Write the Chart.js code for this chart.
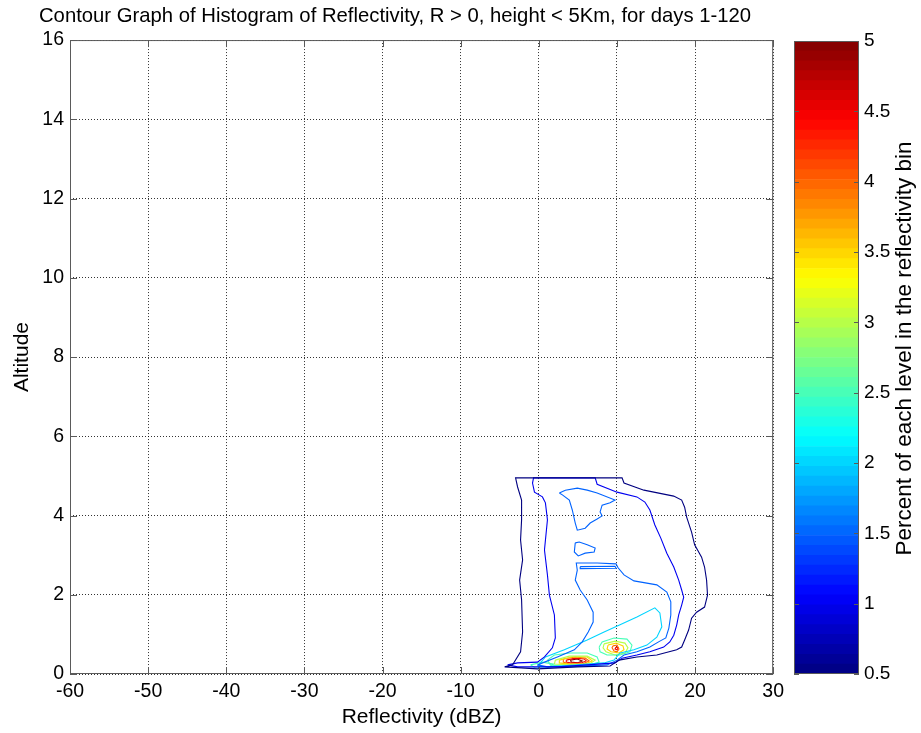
<!DOCTYPE html>
<html>
<head>
<meta charset="utf-8">
<script src="https://cdn.jsdelivr.net/npm/chart.js@4.4.0/dist/chart.umd.min.js"></script>
<style>
  html, body { margin: 0; padding: 0; background: #fff; }
  #wrap { position: relative; width: 921px; height: 733px; }
  #main { position: absolute; left: 0; top: 0; }
  #cbar { position: absolute; left: 790px; top: 0; }
</style>
</head>
<body>
<div id="wrap">
  <canvas id="main" width="790" height="733"></canvas>
  <canvas id="cbar" width="131" height="733"></canvas>
</div>
<script>
// axis ranges / ticks
const xRange = [-60, 30];
const yRange = [0, 16];
const cbarRange = [0.5, 5];
const nBands = 64;

// contour lines, [reflectivity dBZ, altitude km]
const ringA = [[-4.37,0.18],[-3.35,0.23],[-2.33,0.56],[-2.07,1.06],[-2.20,1.87],[-2.45,2.37],[-2.07,2.88],[-2.33,3.38],[-2.20,3.89],[-2.20,4.39],[-2.71,4.72],[-2.97,4.95],[2.38,4.95],[10.66,4.95],[10.91,4.82],[13.46,4.64],[17.27,4.49],[18.29,4.39],[18.67,4.21],[18.93,3.96],[19.56,3.58],[19.95,3.26],[20.84,2.95],[21.22,2.70],[21.48,2.37],[21.60,1.99],[21.22,1.69],[20.20,1.56],[19.56,1.41],[19.18,1.11],[18.67,0.86],[18.29,0.68],[17.65,0.61],[15.11,0.48],[12.56,0.43],[10.27,0.35],[9.13,0.20],[4.93,0.18],[-0.17,0.13]];
const ringB = [[-3.99,0.23],[-2.71,0.28],[-0.17,0.30],[0.73,0.43],[1.74,0.66],[2.12,0.91],[2.00,1.49],[1.36,1.99],[1.11,2.50],[0.73,3.13],[1.11,3.89],[0.85,4.32],[0.47,4.47],[-0.55,4.59],[-0.80,4.82],[-0.67,4.95],[7.22,4.95],[7.47,4.79],[10.02,4.59],[12.56,4.47],[13.58,4.34],[14.22,4.14],[14.86,3.76],[15.62,3.43],[16.39,3.05],[17.28,2.70],[17.91,2.37],[18.29,2.12],[18.55,1.94],[18.29,1.74],[17.91,1.49],[17.66,1.24],[17.28,0.98],[16.77,0.81],[15.99,0.68],[14.22,0.56],[12.56,0.48],[10.65,0.40],[9.76,0.28],[6.20,0.23],[2.38,0.18],[-2.71,0.18]];
const ringC = [[-0.17,0.23],[0.73,0.30],[2.38,0.43],[4.55,0.61],[5.56,0.81],[6.33,1.06],[6.96,1.31],[6.96,1.56],[6.20,1.87],[5.30,2.12],[4.67,2.37],[4.93,2.62],[4.80,2.80],[7.47,2.80],[9.89,2.78],[10.15,2.68],[10.91,2.50],[12.18,2.35],[15.11,2.25],[16.39,2.07],[16.90,1.82],[16.90,1.49],[16.65,1.16],[16.26,0.91],[15.50,0.83],[14.22,0.68],[12.56,0.56],[10.91,0.48],[10.02,0.35],[8.74,0.23],[4.93,0.20],[1.11,0.18]];
const bandC = [[5.30,2.71],[9.76,2.72],[9.89,2.67],[5.30,2.66]];
const blobC1 = [[2.63,4.57],[3.40,4.64],[4.93,4.69],[6.20,4.64],[7.47,4.57],[9.76,4.39],[9.13,4.32],[8.11,4.26],[7.85,4.09],[8.11,3.99],[7.47,3.91],[6.58,3.81],[5.94,3.68],[4.93,3.63],[4.67,3.81],[4.29,4.14],[3.91,4.39],[3.02,4.52]];
const blobC2 = [[4.67,3.31],[5.18,3.33],[6.20,3.26],[7.22,3.18],[7.09,3.08],[5.94,3.05],[5.05,2.98],[4.55,3.08]];
const ringD = [[-0.17,0.20],[0.86,0.43],[3.27,0.61],[6.20,0.86],[8.36,1.06],[10.40,1.24],[12.56,1.44],[14.86,1.67],[15.50,1.54],[15.75,1.19],[15.11,0.93],[13.84,0.73],[12.18,0.61],[10.40,0.53],[9.63,0.35],[8.36,0.28],[4.93,0.23],[1.11,0.18]];
const ringE1 = [[7.73,0.68],[8.11,0.81],[9.63,0.91],[11.29,0.88],[11.93,0.73],[11.67,0.56],[10.40,0.48],[8.74,0.48],[7.85,0.56]];
const ringE2 = [[1.11,0.35],[2.00,0.48],[4.04,0.53],[6.20,0.53],[7.47,0.43],[7.73,0.30],[6.20,0.20],[3.65,0.18],[1.49,0.23]];
const ringE3 = [[-1.06,0.23],[0.48,0.30],[1.87,0.25],[1.11,0.15],[-0.42,0.15]];
const ringF1 = [[8.36,0.76],[9.76,0.83],[11.03,0.78],[11.42,0.66],[11.03,0.53],[9.76,0.48],[8.61,0.56],[8.23,0.66]];
const ringF2 = [[2.12,0.35],[3.91,0.45],[6.20,0.45],[7.22,0.35],[6.45,0.25],[3.91,0.23],[2.00,0.25]];
const ringG1 = [[8.87,0.73],[9.89,0.78],[10.78,0.71],[10.91,0.61],[10.27,0.53],[9.25,0.56],[8.74,0.63]];
const ringG2 = [[2.63,0.35],[4.29,0.43],[6.20,0.43],[6.84,0.33],[5.94,0.25],[3.91,0.25],[2.63,0.28]];
const ringH1 = [[9.51,0.71],[10.02,0.73],[10.27,0.63],[10.02,0.56],[9.63,0.58],[9.38,0.66]];
const ringH2 = [[3.14,0.38],[4.67,0.43],[5.94,0.40],[6.45,0.33],[5.56,0.25],[3.91,0.25],[3.14,0.30]];
const ringI1 = [[9.89,0.68],[10.15,0.66],[10.02,0.61],[9.76,0.63]];
const ringI2 = [[3.52,0.35],[4.67,0.40],[5.81,0.38],[6.07,0.33],[5.43,0.28],[4.04,0.28],[3.52,0.30]];
const ringJ2 = [[4.04,0.35],[4.93,0.38],[5.56,0.33],[4.93,0.28],[4.17,0.30]];

const contourLevels = [0.5, 1.0, 1.5, 1.5, 1.5, 1.5, 2.0, 2.5, 2.5, 2.5, 3.0, 3.0, 3.5, 3.5, 4.0, 4.0, 4.5, 4.5, 5.0];
const contourLines  = [ringA, ringB, ringC, bandC, blobC1, blobC2, ringD, ringE1, ringE2, ringE3, ringF1, ringF2, ringG1, ringG2, ringH1, ringH2, ringI1, ringI2, ringJ2];

// stray black stroke inside the colorbar
const cbarStrokeX = [0.49, 0.75];
const cbarStrokeY = [0.5, 1.0];

function jet(f) {
  const c = v => Math.round(255 * Math.max(0, Math.min(1, v)));
  return `rgb(${c(1.5 - Math.abs(4 * f - 3))},${c(1.5 - Math.abs(4 * f - 2))},${c(1.5 - Math.abs(4 * f - 1))})`;
}
function levelColor(l) {
  return jet((l - cbarRange[0]) / (cbarRange[1] - cbarRange[0]));
}

Chart.defaults.font.family = '"Liberation Sans", Arial, Helvetica, sans-serif';
Chart.defaults.color = '#000';

const frameColor = '#5a5a5a';

// box round the plot plus inward tick marks, like matlab
const framePlugin = {
  id: 'frame',
  afterDraw(chart, args, opts) {
    const { ctx, chartArea: a, scales } = chart;
    ctx.save();
    ctx.strokeStyle = frameColor;
    ctx.lineWidth = 1;
    ctx.strokeRect(a.left + 0.5, a.top + 0.5, a.right - a.left - 1, a.bottom - a.top - 1);
    const len = opts.tickLen || 7;
    ctx.beginPath();
    if (opts.xTicks) {
      scales.x.ticks.forEach(t => {
        const px = Math.round(scales.x.getPixelForValue(t.value)) + 0.5;
        ctx.moveTo(px, a.bottom); ctx.lineTo(px, a.bottom - len);
        ctx.moveTo(px, a.top); ctx.lineTo(px, a.top + len);
      });
    }
    scales.y.ticks.forEach(t => {
      const py = Math.round(scales.y.getPixelForValue(t.value)) + 0.5;
      ctx.moveTo(a.left, py); ctx.lineTo(a.left + len, py);
      ctx.moveTo(a.right, py); ctx.lineTo(a.right - len, py);
    });
    ctx.stroke();
    if (opts.sideTitle) {
      ctx.fillStyle = '#000';
      ctx.font = opts.sideTitle.size + 'px "Liberation Sans", Arial, sans-serif';
      ctx.textAlign = 'center';
      ctx.textBaseline = 'middle';
      ctx.translate(opts.sideTitle.x, (a.top + a.bottom) / 2 + opts.sideTitle.dy);
      ctx.rotate(-Math.PI / 2);
      ctx.fillText(opts.sideTitle.text, 0, 0);
    }
    ctx.restore();
  }
};

const datasets = contourLines.map((line, i) => ({
  data: line.concat([line[0]]).map(p => ({ x: p[0], y: p[1] })),
  showLine: true,
  borderColor: levelColor(contourLevels[i]),
  borderWidth: 1.1,
  pointRadius: 0,
  fill: false,
  tension: 0
}));

new Chart(document.getElementById('main'), {
  type: 'scatter',
  data: { datasets: datasets },
  options: {
    responsive: false,
    animation: false,
    layout: { padding: 0 },
    plugins: {
      legend: { display: false },
      tooltip: { enabled: false },
      title: {
        display: true,
        text: 'Contour Graph of Histogram of Reflectivity, R > 0, height < 5Km, for days 1-120',
        font: { size: 20.3, weight: 'normal' },
        color: '#000',
        padding: { top: 4.5, bottom: 11.2 }
      },
      frame: { xTicks: true, tickLen: 7 }
    },
    scales: {
      x: {
        type: 'linear', min: xRange[0], max: xRange[1],
        ticks: { stepSize: 10, padding: 6, font: { size: 19.5 }, color: '#000' },
        grid: { color: 'rgba(0,0,0,0.8)', drawTicks: false },
        border: { display: false, dash: [1, 2] },
        title: { display: true, text: 'Reflectivity (dBZ)', font: { size: 21 }, color: '#000', padding: { top: 0, bottom: 3 } },
        afterFit(s) { s.height = 59; }
      },
      y: {
        type: 'linear', min: yRange[0], max: yRange[1],
        ticks: { stepSize: 2, padding: 6, font: { size: 19.5 }, color: '#000' },
        grid: { color: 'rgba(0,0,0,0.8)', drawTicks: false },
        border: { display: false, dash: [1, 2] },
        title: { display: true, text: 'Altitude', font: { size: 21 }, color: '#000', padding: { top: 9.5, bottom: 0 } },
        afterFit(s) { s.width = 70; }
      },
      // empty right strip so the title centres on the whole canvas
      yR: {
        type: 'linear', position: 'right', min: yRange[0], max: yRange[1],
        ticks: { display: false },
        grid: { display: false, drawTicks: false },
        border: { display: false },
        afterFit(s) { s.width = 13; }
      }
    }
  },
  plugins: [framePlugin]
});

// colorbar: 64 jet bands as floating bars
const bandSize = (cbarRange[1] - cbarRange[0]) / nBands;
const bandDatasets = [];
for (let i = 0; i < nBands; i++) {
  const lo = cbarRange[0] + i * bandSize;
  bandDatasets.push({
    type: 'bar',
    data: [[lo, lo + bandSize]],
    backgroundColor: jet((i + 0.5) / nBands),
    borderWidth: 0,
    barPercentage: 1,
    categoryPercentage: 1,
    grouped: false
  });
}
bandDatasets.push({
  type: 'line',
  xAxisID: 'xl',
  data: cbarStrokeX.map((x, i) => ({ x: x, y: cbarStrokeY[i] })),
  borderColor: '#000',
  borderWidth: 1,
  pointRadius: 0
});

new Chart(document.getElementById('cbar'), {
  type: 'bar',
  data: { labels: [''], datasets: bandDatasets },
  options: {
    responsive: false,
    animation: false,
    layout: { padding: { left: 4, right: 0, top: 41, bottom: 59 } },
    plugins: {
      legend: { display: false },
      tooltip: { enabled: false },
      frame: { xTicks: false, tickLen: 5, sideTitle: { x: 115, dy: -9, size: 22.5, text: 'Percent of each level in the reflectivity bin' } }
    },
    scales: {
      x: { display: false },
      xl: { type: 'linear', display: false, min: 0, max: 1 },
      y: {
        position: 'right', min: cbarRange[0], max: cbarRange[1],
        ticks: { stepSize: 0.5, padding: 5, font: { size: 19 }, color: '#000', callback: v => String(Math.round(v * 10) / 10) },
        grid: { display: false, drawTicks: false },
        border: { display: false },
        afterFit(s) { s.width = 62; }
      }
    }
  },
  plugins: [framePlugin]
});
</script>
</body>
</html>
